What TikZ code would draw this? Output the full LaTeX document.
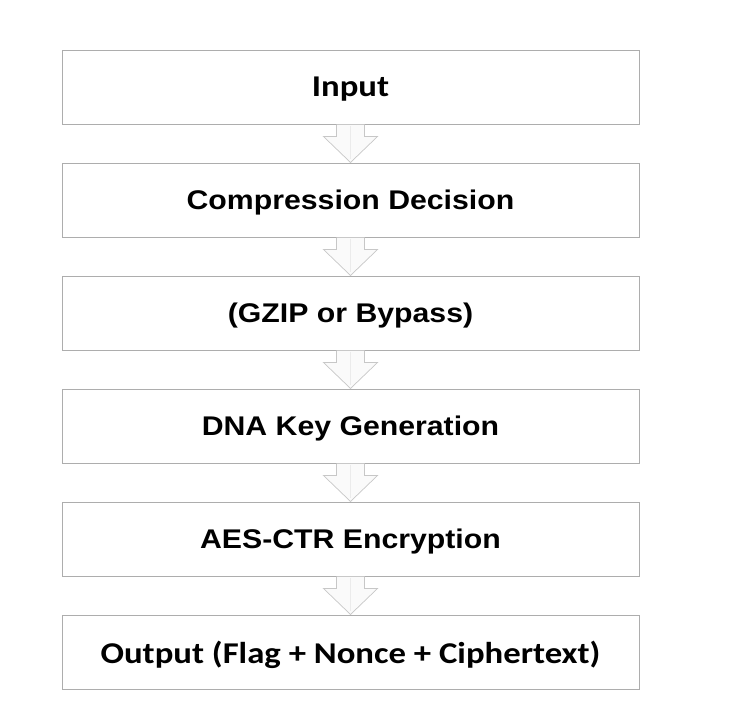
\documentclass[tikz,border=0pt]{standalone}
\usepackage{fontspec}
\newfontfamily\aptosish[FakeStretch=1.15]{Carlito}
\newfontfamily\arialish[FakeStretch=1.12]{Liberation Sans}
\usetikzlibrary{calc}
\tikzset{
  stepbox/.style={draw=black!32, line width=1pt, fill=white, minimum width=577pt, minimum height=74pt, inner sep=0pt, text=black, text depth=0pt,
    append after command={\pgfextra{\draw[black!7, line width=1.2pt] ($(\tikzlastnode.south west)+(5,-5)$) rectangle ($(\tikzlastnode.north east)+(-5,5)$);}}},
  fa/.style={font=\fontsize{30.2}{32}\aptosish\bfseries},
  fb/.style={font=\fontsize{27}{30}\arialish\bfseries},
  blockarrow/.style={draw=black!22, line width=0.7pt, fill=black!2}
}
\begin{document}
\begin{tikzpicture}[x=1pt,y=-1pt]
\useasboundingbox (0,0) rectangle (736,720);
\node[stepbox,fa] (b1) at (350.5,87) {Input};
\node[stepbox,fb] (b2) at (350.5,200) {Compression Decision};
\node[stepbox,fb] (b3) at (350.5,313) {(GZIP or Bypass)};
\node[stepbox,fb] (b4) at (350.5,426) {DNA Key Generation};
\node[stepbox,fb] (b5) at (350.5,539) {AES-CTR Encryption};
\node[stepbox,fa] (b6) at (350.5,652) {Output (Flag + Nonce + Ciphertext)};
\foreach \a/\b in {b1/b2,b2/b3,b3/b4,b4/b5,b5/b6}{
  \draw[blockarrow] ($(\a.south)+(-14,0)$) -- ($(\a.south)+(-14,12)$) -- ($(\a.south)+(-27,12)$)
    -- (\b.north) -- ($(\a.south)+(27,12)$) -- ($(\a.south)+(14,12)$) -- ($(\a.south)+(14,0)$);
  \draw[black!8, line width=1pt] ($(\a.south)+(0,1)$) -- ($(\b.north)+(0,-4)$);
}
\end{tikzpicture}
\end{document}
